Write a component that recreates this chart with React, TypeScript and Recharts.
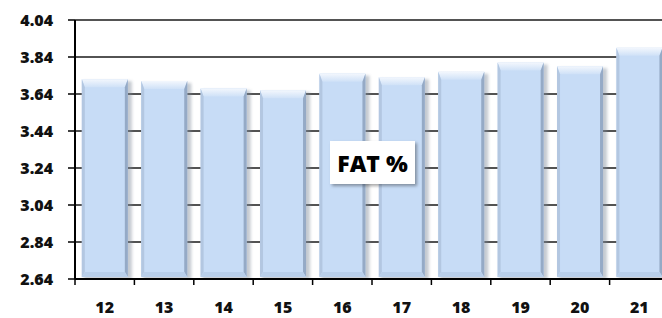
import { Bar, BarChart, CartesianGrid, XAxis, YAxis } from "recharts";

const weeks = ["12", "13", "14", "15", "16", "17", "18", "19", "20", "21"];
const fatPct = [3.72, 3.71, 3.67, 3.66, 3.75, 3.73, 3.76, 3.81, 3.79, 3.89];
const yTicks = [2.64, 2.84, 3.04, 3.24, 3.44, 3.64, 3.84, 4.04];

const data = weeks.map((week, i) => ({ week, fat: fatPct[i] }));

const CHART_W = 669;
const CHART_H = 318;
const Y_AXIS_W = 75;
const BAND = (CHART_W - Y_AXIS_W) / weeks.length;
const FONT = "'Open Sans', Lato, sans-serif";
const WEIGHT = 800;

interface BevelProps {
  x?: number;
  y?: number;
  width?: number;
  height?: number;
}

function BevelBar({ x = 0, y = 0, width = 0, height = 0 }: BevelProps) {
  if (height <= 0) return null;
  const t = 8; // top bevel depth
  const s = 3; // side strip
  const b = 5; // bottom bevel
  const r = x + width;
  const bot = y + height - 2;
  return (
    <g>
      <rect
        x={x + 2}
        y={y + 2}
        width={width + 2}
        height={height - 2}
        fill="#7f8a99"
        opacity={0.45}
        filter="url(#barShadow)"
      />
      <rect x={x} y={y} width={width} height={bot - y} fill="#c7dcf6" />
      <polygon
        points={`${x},${y} ${r},${y} ${r - s},${y + t} ${x + s},${y + t}`}
        fill="url(#topBevel)"
      />
      <polygon
        points={`${x},${y} ${x + s},${y + t} ${x + s},${bot - b} ${x},${bot}`}
        fill="#b3c7e1"
      />
      <polygon
        points={`${r},${y} ${r - s},${y + t} ${r - s},${bot - b} ${r},${bot}`}
        fill="#95aac6"
      />
      <polygon
        points={`${x},${bot} ${x + s},${bot - b} ${r - s},${bot - b} ${r},${bot}`}
        fill="#b9cfea"
      />
    </g>
  );
}

interface TickProps {
  x?: number;
  y?: number;
  payload?: { value: string };
}

function WeekTick({ x = 0, y = 0, payload }: TickProps) {
  const left = x - BAND / 2;
  return (
    <g>
      <line x1={left} x2={left} y1={y} y2={y + 6} stroke="#000" strokeWidth={1.5} />
      <text
        x={x}
        y={y + 34}
        textAnchor="middle"
        fontFamily={FONT}
        fontWeight={WEIGHT}
        fontSize={16}
        fill="#111"
      >
        {payload?.value}
      </text>
    </g>
  );
}

export default function App() {
  return (
    <div
      style={{
        position: "fixed",
        left: 0,
        top: 0,
        width: 662,
        height: 318,
        overflow: "hidden",
        background: "#fff",
      }}
    >
      <BarChart
        width={CHART_W}
        height={CHART_H}
        data={data}
        margin={{ top: 20, right: 0, left: 0, bottom: 0 }}
        barCategoryGap="11.5%"
      >
        <defs>
          <linearGradient id="topBevel" x1="0" y1="0" x2="0" y2="1">
            <stop offset="0%" stopColor="#f3f7fd" />
            <stop offset="100%" stopColor="#cfe1f7" />
          </linearGradient>
          <filter id="barShadow" x="-20%" y="-20%" width="140%" height="140%">
            <feGaussianBlur stdDeviation="1.5" />
          </filter>
        </defs>
        <CartesianGrid
          horizontal
          vertical={false}
          stroke="#000"
          strokeWidth={1.5}
          strokeOpacity={0.9}
        />
        <XAxis
          dataKey="week"
          height={39}
          axisLine={{ stroke: "#000", strokeWidth: 2 }}
          tickLine={false}
          tickSize={0}
          tickMargin={0}
          interval={0}
          tick={<WeekTick />}
        />
        <YAxis
          width={Y_AXIS_W}
          domain={[2.64, 4.04]}
          ticks={yTicks}
          interval={0}
          allowDataOverflow
          tickFormatter={(v: number) => v.toFixed(2)}
          axisLine={{ stroke: "#000", strokeWidth: 2 }}
          tickLine={{ stroke: "#000", strokeWidth: 1.5 }}
          tickSize={7}
          tickMargin={15}
          tick={{ fontFamily: FONT, fontWeight: WEIGHT, fontSize: 16, fill: "#111" }}
        />
        <Bar
          dataKey="fat"
          shape={<BevelBar />}
          isAnimationActive={false}
        />
      </BarChart>
      <div
        style={{
          position: "absolute",
          left: 330,
          top: 141,
          width: 85,
          height: 43,
          background: "#fff",
          boxShadow: "2px 2px 3px rgba(0,0,0,0.35)",
          display: "flex",
          alignItems: "center",
          justifyContent: "center",
          fontFamily: FONT,
          fontWeight: WEIGHT,
          fontSize: 23,
          color: "#000",
        }}
      >
        FAT %
      </div>
    </div>
  );
}
